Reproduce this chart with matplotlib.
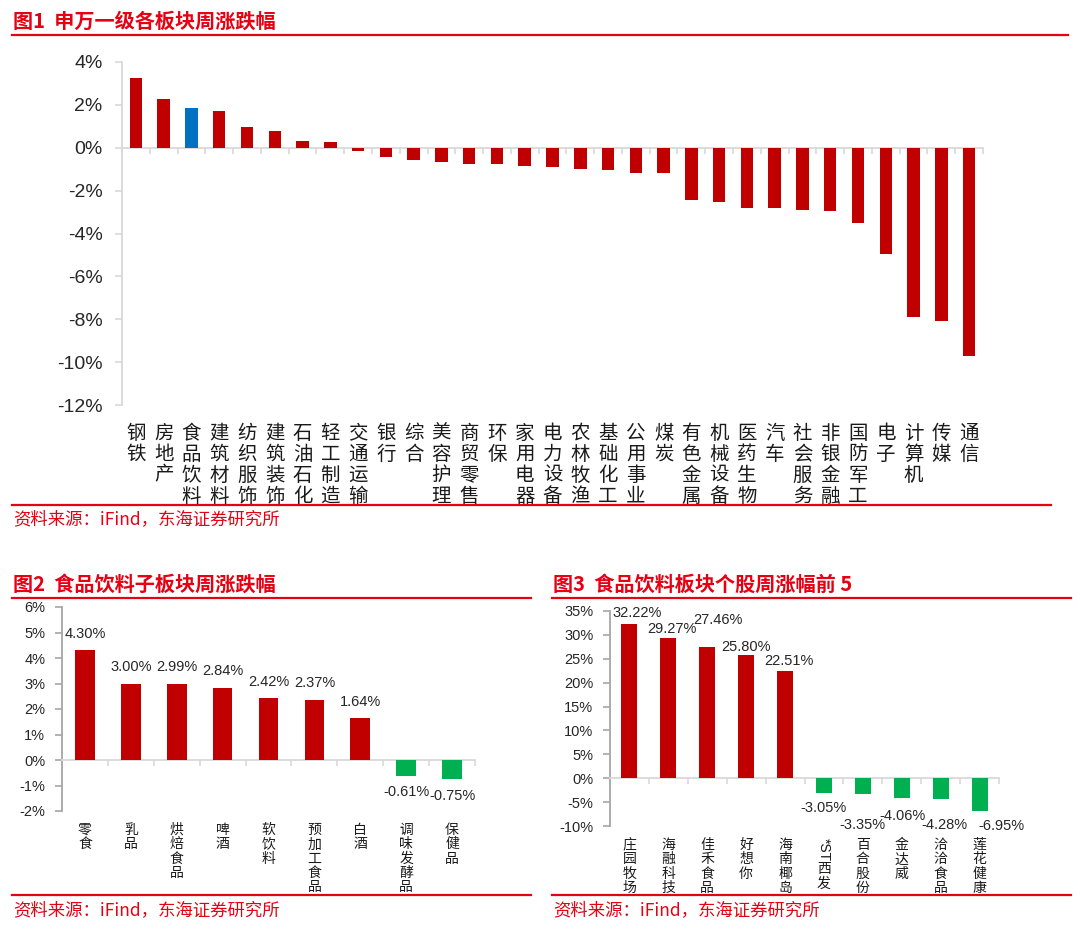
import matplotlib
matplotlib.use("Agg")
import matplotlib.pyplot as plt
import matplotlib.transforms as mtransforms
from matplotlib.lines import Line2D

plt.rcParams['font.family'] = ['Liberation Sans', 'Noto Sans CJK SC', 'DejaVu Sans']
plt.rcParams['axes.unicode_minus'] = False

# ---------------- data ----------------
sw_names = ["钢铁", "房地产", "食品饮料", "建筑材料", "纺织服饰", "建筑装饰", "石油石化", "轻工制造",
            "交通运输", "银行", "综合", "美容护理", "商贸零售", "环保", "家用电器", "电力设备",
            "农林牧渔", "基础化工", "公用事业", "煤炭", "有色金属", "机械设备", "医药生物", "汽车",
            "社会服务", "非银金融", "国防军工", "电子", "计算机", "传媒", "通信"]
sw_values = [3.24, 2.29, 1.84, 1.70, 0.95, 0.76, 0.31, 0.25, -0.15, -0.45, -0.59, -0.65, -0.76,
             -0.76, -0.84, -0.92, -0.99, -1.06, -1.18, -1.20, -2.42, -2.53, -2.80, -2.81, -2.92,
             -2.95, -3.53, -4.96, -7.91, -8.10, -9.73]
sw_highlight = "食品饮料"
sw_ticks = [4, 2, 0, -2, -4, -6, -8, -10, -12]

sub_names = ["零食", "乳品", "烘焙食品", "啤酒", "软饮料", "预加工食品", "白酒", "调味发酵品", "保健品"]
sub_values = [4.30, 3.00, 2.99, 2.84, 2.42, 2.37, 1.64, -0.61, -0.75]
sub_ticks = [6, 5, 4, 3, 2, 1, 0, -1, -2]

stk_names = ["庄园牧场", "海融科技", "佳禾食品", "好想你", "海南椰岛", "*ST西发", "百合股份", "金达威", "洽洽食品", "莲花健康"]
stk_values = [32.22, 29.27, 27.46, 25.80, 22.51, -3.05, -3.35, -4.06, -4.28, -6.95]
stk_ticks = [35, 30, 25, 20, 15, 10, 5, 0, -5, -10]

titles = ["图1  申万一级各板块周涨跌幅", "图2  食品饮料子板块周涨跌幅", "图3  食品饮料板块个股周涨幅前 5"]
source = "资料来源：iFind，东海证券研究所"

# ---------------- style ----------------
RED = "#C00000"
BLUE = "#0070C0"
GREEN = "#00B050"
TITLE_RED = "#E60012"
CJK = ["Noto Sans CJK SC", "DejaVu Sans"]
W, H = 1080, 931

fig = plt.figure(figsize=(W / 100, H / 100), dpi=100)
fig.patch.set_facecolor("white")
renderer = fig.canvas.get_renderer()


def fx(px):
    return px / W


def fy(py):
    return 1 - py / H


def hline(x0, x1, y, lw=1.6):
    fig.add_artist(Line2D([fx(x0), fx(x1)], [fy(y), fy(y)], color=TITLE_RED, lw=lw,
                          transform=fig.transFigure))


def make_axes(left, right, top, bottom):
    return fig.add_axes([fx(left), fy(bottom), fx(right) - fx(left), (bottom - top) / H])


def style_axes(ax, n, ticks, ycolor, fs, pad):
    ax.set_xlim(-0.5, n - 0.5)
    ax.set_ylim(min(ticks), max(ticks))
    for s in ["top", "right"]:
        ax.spines[s].set_visible(False)
    ax.spines["left"].set_color(ycolor)
    ax.spines["left"].set_linewidth(1.3)
    ax.spines["bottom"].set_position(("data", 0))
    ax.spines["bottom"].set_color("#D9D9D9")
    ax.spines["bottom"].set_linewidth(1.3)
    ax.set_yticks(ticks)
    ax.set_yticklabels([f"{t}%" for t in ticks], fontsize=fs, color="#262626")
    ax.tick_params(axis="y", direction="out", length=5, width=1.2, color=ycolor, pad=pad)
    ax.set_xticks([i + 0.5 for i in range(-1, n)])
    ax.set_xticklabels([])
    ax.tick_params(axis="x", direction="out", length=4, width=1.2, color="#D9D9D9")
    ax.patch.set_alpha(0)


def cat_labels(ax, names, gap_px, fs, ls):
    base = mtransforms.blended_transform_factory(ax.transData, ax.transAxes)
    for i, nm in enumerate(names):
        # leading latin part is written sideways, the CJK part stacked
        k = 0
        while k < len(nm) and ord(nm[k]) < 128:
            k += 1
        off = gap_px
        if k > 0:
            tr = base + mtransforms.ScaledTranslation(0, -off / 100, fig.dpi_scale_trans)
            t = ax.text(i, 0, nm[:k], transform=tr, ha="center", va="top", rotation=-90,
                        fontsize=fs, color="#1a1a1a")
            bb = t.get_window_extent(renderer)
            off += bb.height + 1
        tr = base + mtransforms.ScaledTranslation(0, -off / 100, fig.dpi_scale_trans)
        ax.text(i, 0, "\n".join(nm[k:]), transform=tr, ha="center", va="top",
                fontsize=fs, color="#1a1a1a", linespacing=ls, family=CJK)


def title(x, y, s):
    fig.text(fx(x), fy(y), s, fontsize=14.5, fontweight="bold", color=TITLE_RED,
             va="center", ha="left", family=CJK)


def src(x, y):
    fig.text(fx(x), fy(y), source, fontsize=12.5, color=TITLE_RED, va="center", ha="left",
             family=CJK)


# ---------------- figure 1 ----------------
title(13, 21, titles[0])
hline(12, 1068, 35)
ax1 = make_axes(122, 983, 62, 405)
n1 = len(sw_names)
colors1 = [BLUE if nm == sw_highlight else RED for nm in sw_names]
ax1.bar(range(n1), sw_values, width=0.45, color=colors1, zorder=3)
style_axes(ax1, n1, sw_ticks, "#D9D9D9", 14, 9)
cat_labels(ax1, sw_names, 18, 14, 0.99)
hline(12, 1051, 505)
src(13, 519)

# ---------------- figure 2 ----------------
title(13, 584, titles[1])
hline(12, 531, 598)
ax2 = make_axes(62, 475, 607, 811)
n2 = len(sub_names)
colors2 = [RED if v >= 0 else GREEN for v in sub_values]
ax2.bar(range(n2), sub_values, width=0.43, color=colors2, zorder=3)
style_axes(ax2, n2, sub_ticks, "#A6A6A6", 10.5, 7)
for i, v in enumerate(sub_values):
    ax2.annotate(f"{v:.2f}%", (i, v), xytext=(0, 12 if v >= 0 else -12),
                 textcoords="offset points", ha="center", va="center",
                 fontsize=10.5, color="#262626")
cat_labels(ax2, sub_names, 12, 10, 1.03)
hline(12, 531, 895)
src(13, 910)

# ---------------- figure 3 ----------------
title(553, 584, titles[2])
hline(552, 1071, 598)
ax3 = make_axes(610, 999, 611, 826)
n3 = len(stk_names)
colors3 = [RED if v >= 0 else GREEN for v in stk_values]
ax3.bar(range(n3), stk_values, width=0.41, color=colors3, zorder=3)
style_axes(ax3, n3, stk_ticks, "#A6A6A6", 10.5, 7)
# label offsets (pixels) to mimic the staggered placement of the original
lab_dx = [8, 4, 11, 0, 4, 0, 0, 1, 4, 22]
lab_dy = [11, 9, 27, 8, 10, -15, -31, -18, -26, -15]
for i, v in enumerate(stk_values):
    ax3.annotate(f"{v:.2f}%", (i, v), xytext=(lab_dx[i] * 0.72, lab_dy[i] * 0.72),
                 textcoords="offset points", ha="center", va="center",
                 fontsize=10.5, color="#262626")
cat_labels(ax3, stk_names, 12, 10, 1.03)
hline(552, 1071, 895)
src(553, 910)

fig.savefig("out.png", dpi=100, facecolor="white")
